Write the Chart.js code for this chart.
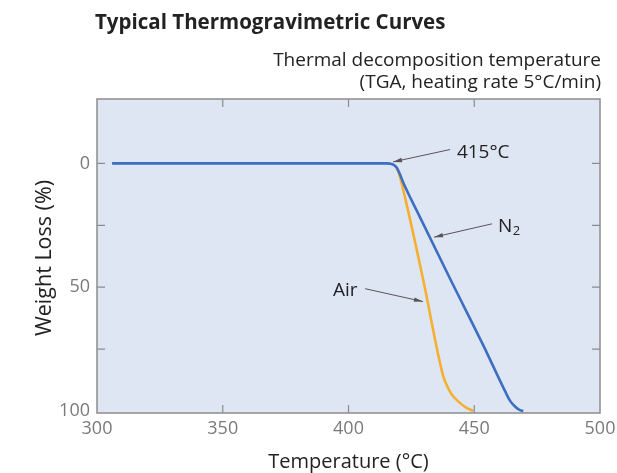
<!DOCTYPE html>
<html>
<head>
<meta charset="utf-8">
<script src="https://cdn.jsdelivr.net/npm/chart.js@4.4.1/dist/chart.umd.min.js"></script>
<style>
html,body{margin:0;padding:0;background:#fff;}
#wrap{width:617px;height:473px;}
</style>
</head>
<body>
<div id="wrap"><canvas id="c" width="617" height="473"></canvas></div>
<script>
// ---- data ----
const n2Temp   = [306, 415, 416.5, 418, 419.2, 420.2, 421.8, 428.4, 440.4, 453.6, 462.5, 464.2, 466.2, 468, 469.5];
const n2Loss   = [0,   0,   0.1,   0.6, 1.8,   3.8,   7.8,   21.7,  46.6,  73.5,  92.5,  95.8,  98.2,  99.5, 100];
const airTemp  = [419.2, 420.2, 421.5, 429.7, 437.7, 439.5, 441, 443.7, 446.5, 449.6];
const airLoss  = [1.8,   4.5,   9.5,   47,    86,    90.5,  93.2, 96.2, 98.4, 100];
const xTicks   = [300, 350, 400, 450, 500];
const yLabels  = [0, 50, 100];
const yMinor   = [0, 25, 50, 75];
const xInner   = [350, 400, 450];
const titleText = 'Typical Thermogravimetric Curves';
const subLines  = ['Thermal decomposition temperature', '(TGA, heating rate 5°C/min)'];
const xTitle = 'Temperature (°C)';
const yTitle = 'Weight Loss (%)';
// annotations: [text, textX, textY(baseline), lineStartX, lineStartY, arrowX, arrowY] in data units
const notes = [
  ['415°C', 443.1, -2.0, 440.4, -5.6, 417.7, -0.6],
  ['N', 459.4, 27.6, 457.1, 24.4, 434.0, 29.8],
  ['Air', 393.8, 53.7, 406.6, 50.6, 429.6, 55.8]
];

const FONT = '"Open Sans", "Noto Sans", sans-serif';
const AXIS = '#8c8c8c';

const toPts = (xs, ys) => xs.map((x, i) => ({x: x, y: ys[i]}));

const deco = {
  id: 'deco',
  beforeDatasetsDraw(chart) {
    const {ctx, chartArea: a} = chart;
    ctx.save();
    ctx.fillStyle = '#dfe6f3';
    ctx.fillRect(a.left, a.top, a.right - a.left, a.bottom - a.top);
    ctx.restore();
  },
  afterDatasetsDraw(chart) {
    const {ctx, chartArea: a, scales} = chart;
    const xs = scales.x, ys = scales.y;
    ctx.save();
    // frame
    ctx.strokeStyle = AXIS;
    ctx.lineWidth = 1.5;
    ctx.strokeRect(a.left, a.top, a.right - a.left, a.bottom - a.top);
    // inner ticks
    ctx.lineWidth = 1.2;
    const TL = 8;
    ctx.beginPath();
    yMinor.forEach(v => {
      const py = ys.getPixelForValue(v);
      ctx.moveTo(a.left, py); ctx.lineTo(a.left + TL, py);
      ctx.moveTo(a.right, py); ctx.lineTo(a.right - TL, py);
    });
    xInner.forEach(v => {
      const px = xs.getPixelForValue(v);
      ctx.moveTo(px, a.top); ctx.lineTo(px, a.top + TL);
      ctx.moveTo(px, a.bottom); ctx.lineTo(px, a.bottom - TL);
    });
    ctx.stroke();

    // annotations
    notes.forEach(n => {
      const tx = xs.getPixelForValue(n[1]), ty = ys.getPixelForValue(n[2]);
      const sx = xs.getPixelForValue(n[3]), sy = ys.getPixelForValue(n[4]);
      const ex = xs.getPixelForValue(n[5]), ey = ys.getPixelForValue(n[6]);
      ctx.strokeStyle = '#555';
      ctx.fillStyle = '#555';
      ctx.lineWidth = 1;
      ctx.beginPath(); ctx.moveTo(sx, sy); ctx.lineTo(ex, ey); ctx.stroke();
      const ang = Math.atan2(ey - sy, ex - sx);
      const L = 9, W = 2.2;
      ctx.beginPath();
      ctx.moveTo(ex, ey);
      ctx.lineTo(ex - L * Math.cos(ang) + W * Math.sin(ang), ey - L * Math.sin(ang) - W * Math.cos(ang));
      ctx.lineTo(ex - L * Math.cos(ang) - W * Math.sin(ang), ey - L * Math.sin(ang) + W * Math.cos(ang));
      ctx.closePath(); ctx.fill();
      ctx.fillStyle = '#222';
      ctx.font = '19px ' + FONT;
      ctx.textAlign = 'left';
      ctx.textBaseline = 'alphabetic';
      ctx.fillText(n[0], tx, ty);
      if (n[0] === 'N') {
        const w = ctx.measureText('N').width;
        ctx.font = '13px ' + FONT;
        ctx.fillText('2', tx + w + 0.5, ty + 3);
      }
    });
    ctx.restore();
  },
  afterDraw(chart) {
    const {ctx, chartArea: a} = chart;
    ctx.save();
    ctx.fillStyle = '#222';
    ctx.textBaseline = 'alphabetic';
    ctx.font = 'bold 20.5px ' + FONT;
    ctx.textAlign = 'left';
    ctx.fillText(titleText, a.left - 2, 29);
    ctx.font = '19px ' + FONT;
    ctx.textAlign = 'right';
    ctx.fillText(subLines[0], a.right + 1, 66);
    ctx.fillText(subLines[1], a.right + 1, 88);
    ctx.font = '20px ' + FONT;
    ctx.textAlign = 'center';
    ctx.textBaseline = 'middle';
    ctx.fillText(xTitle, (a.left + a.right) / 2, 462);
    ctx.font = '21.5px ' + FONT;
    ctx.translate(45, 258);
    ctx.rotate(-Math.PI / 2);
    ctx.fillText(yTitle, 0, 0);
    ctx.restore();
  }
};

new Chart(document.getElementById('c'), {
  type: 'scatter',
  data: {
    datasets: [
      {label: 'Air', data: toPts(airTemp, airLoss), showLine: true, borderColor: '#f5b030', borderWidth: 2.6, pointRadius: 0, cubicInterpolationMode: 'monotone', order: 2},
      {label: 'N2', data: toPts(n2Temp, n2Loss), showLine: true, borderColor: '#3e6ec1', borderWidth: 2.6, pointRadius: 0, cubicInterpolationMode: 'monotone', order: 1}
    ]
  },
  options: {
    responsive: false,
    animation: false,
    devicePixelRatio: 1,
    layout: {padding: {top: 99, right: 17, left: 0, bottom: 0}},
    plugins: {legend: {display: false}, tooltip: {enabled: false}},
    scales: {
      x: {
        type: 'linear', min: 300, max: 500,
        afterBuildTicks: s => { s.ticks = xTicks.map(v => ({value: v})); },
        afterFit: s => { s.height = 60; s.paddingLeft = 0; s.paddingRight = 0; },
        grid: {display: false, drawTicks: false},
        border: {display: false},
        ticks: {color: '#7a7a7a', font: {family: FONT, size: 18}, padding: 5, maxRotation: 0}
      },
      y: {
        type: 'linear', reverse: true, min: -26, max: 100.8,
        afterBuildTicks: s => { s.ticks = yLabels.map(v => ({value: v})); },
        afterFit: s => { s.width = 97; s.paddingTop = 0; s.paddingBottom = 0; },
        grid: {display: false, drawTicks: false},
        border: {display: false},
        ticks: {color: '#7a7a7a', font: {family: FONT, size: 18}, padding: 7}
      }
    }
  },
  plugins: [deco]
});
</script>
</body>
</html>
